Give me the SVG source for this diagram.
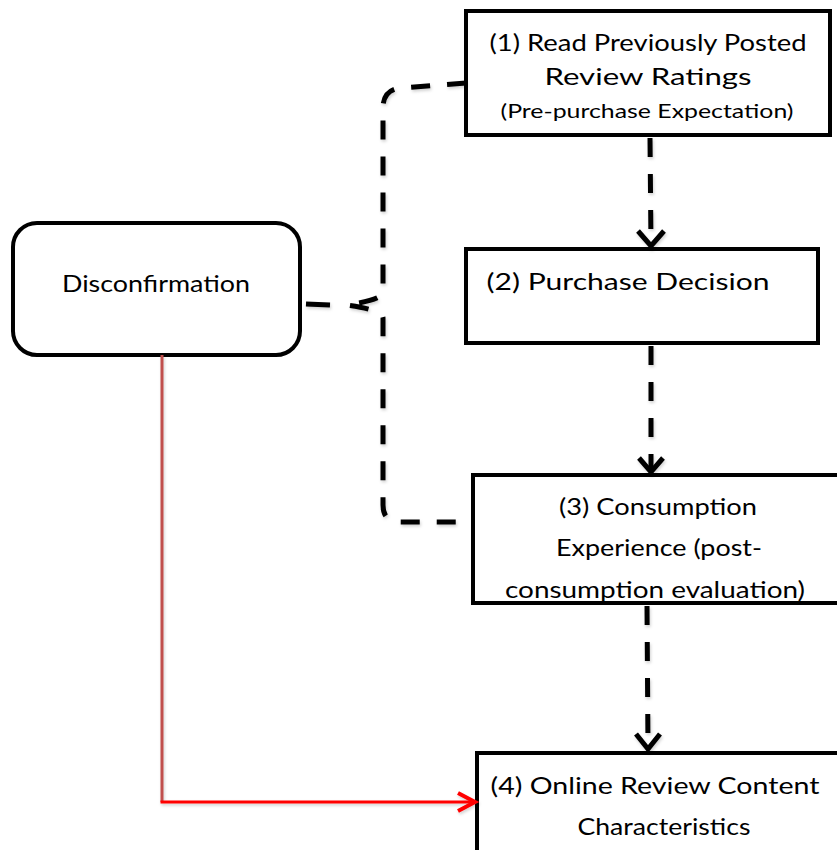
<svg xmlns="http://www.w3.org/2000/svg" width="837" height="850" viewBox="0 0 837 850">
  <style>
    .box { fill: #ffffff; stroke: #000000; stroke-width: 4; }
    .lbl { font-family: Lato, "Liberation Sans", sans-serif; font-size: 24px; fill: #000000; text-anchor: middle; }
    .sub { font-size: 20px; }
    .dash { fill: none; stroke: #000000; stroke-width: 5; stroke-dasharray: 19 17; }
    .head { fill: none; stroke: #000000; stroke-width: 5; stroke-linejoin: miter; stroke-linecap: butt; }
  </style>
  <defs>
    <clipPath id="clip3">
      <rect x="473" y="475" width="400" height="126"/>
    </clipPath>
    <filter id="soft" x="-10%" y="-10%" width="120%" height="120%">
      <feDropShadow dx="1" dy="2" stdDeviation="1.5" flood-color="#000000" flood-opacity="0.18"/>
    </filter>
  </defs>

  <!-- process boxes -->
  <g id="node-read-ratings">
    <rect class="box" x="466" y="11" width="364" height="124"/>
    <text class="lbl" x="648" y="51" textLength="317" lengthAdjust="spacingAndGlyphs">(1) Read Previously Posted</text>
    <text class="lbl" x="648" y="85" textLength="207" lengthAdjust="spacingAndGlyphs">Review Ratings</text>
    <text class="lbl sub" x="647" y="118" textLength="293" lengthAdjust="spacingAndGlyphs">(Pre-purchase Expectation)</text>
  </g>

  <g id="node-purchase-decision">
    <rect class="box" x="466" y="249" width="352" height="94"/>
    <text class="lbl" x="628" y="290" textLength="283" lengthAdjust="spacingAndGlyphs">(2) Purchase Decision</text>
  </g>

  <g id="node-consumption">
    <g clip-path="url(#clip3)">
      <text class="lbl" x="658" y="515" textLength="198" lengthAdjust="spacingAndGlyphs">(3) Consumption</text>
      <text class="lbl" x="659" y="556" textLength="206" lengthAdjust="spacingAndGlyphs">Experience (post-</text>
      <text class="lbl" x="655" y="598" textLength="300" lengthAdjust="spacingAndGlyphs">consumption evaluation)</text>
    </g>
    <rect x="473" y="475" width="400" height="128" fill="none" stroke="#000000" stroke-width="4"/>
  </g>

  <g id="node-review-content">
    <rect class="box" x="477" y="753" width="400" height="120"/>
    <text class="lbl" x="655" y="794" textLength="329" lengthAdjust="spacingAndGlyphs">(4) Online Review Content</text>
    <text class="lbl" x="664" y="835" textLength="173" lengthAdjust="spacingAndGlyphs">Characteristics</text>
  </g>

  <g id="node-disconfirmation">
    <rect class="box" x="13" y="223" width="287" height="132" rx="24" ry="24"/>
    <text class="lbl" x="156" y="292" textLength="188" lengthAdjust="spacingAndGlyphs">Disconfirmation</text>
  </g>

  <!-- connectors -->
  <g id="connectors" filter="url(#soft)">
    <!-- step arrows -->
    <line class="dash" x1="650" y1="138" x2="651" y2="244"/>
    <path class="head" d="M638,231 L651,246 L664,231"/>

    <line class="dash" x1="651" y1="346" x2="651" y2="470"/>
    <path class="head" d="M639,458 L651,472 L663,458"/>

    <line class="dash" x1="647" y1="606" x2="648" y2="747"/>
    <path class="head" d="M636,734 L648,749 L660,734"/>

    <!-- brace spanning steps 1 to 3 -->
    <path class="dash" d="M466,83 L400,88 Q383,90 383,108 L383,292 Q383,300 346,305 Q383,310 383,318 L383,505 Q383,522 400,522 L472,522"/>
    <line x1="306" y1="304" x2="330" y2="305" stroke="#000000" stroke-width="5"/>

    <!-- disconfirmation to review content -->
    <line x1="162" y1="355" x2="162" y2="802" stroke="#c0504d" stroke-width="3"/>
    <line x1="160.5" y1="802" x2="474" y2="802" stroke="#ff0000" stroke-width="3"/>
    <path d="M458,793 L475,802 L458,811" fill="none" stroke="#ff0000" stroke-width="4"/>
  </g>
</svg>
